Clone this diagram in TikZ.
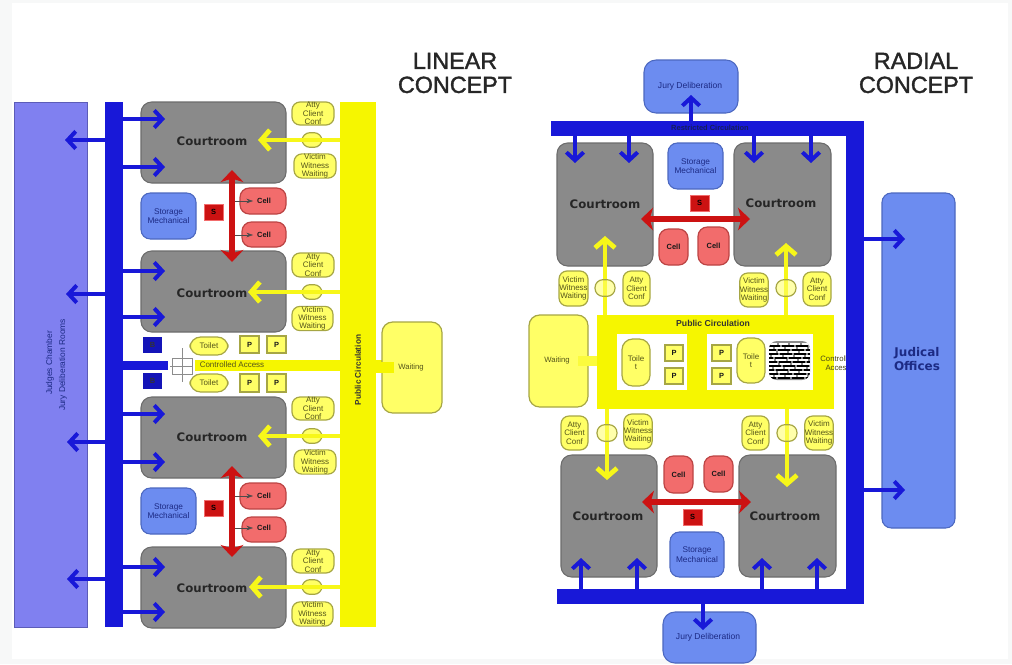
\documentclass[tikz,border=0pt]{standalone}
\usepackage{fontspec}
\setmainfont{Liberation Sans}
\newfontfamily\widebold[Scale=1]{DejaVu Sans}
\newfontfamily\titlefont[FakeBold=1.6]{Liberation Sans}
\usetikzlibrary{arrows.meta,calc}
\definecolor{bandblue}{HTML}{1818D8}
\definecolor{judgepanel}{HTML}{8080F0}
\definecolor{judgeedge}{HTML}{5C5CB8}
\definecolor{crfill}{HTML}{8A8A8A}
\definecolor{credge}{HTML}{6C6C6C}
\definecolor{stfill}{HTML}{6C8CF0}
\definecolor{stedge}{HTML}{4C68C0}
\definecolor{pubyellow}{HTML}{F6F600}
\definecolor{softyellow}{HTML}{FFFF66}
\definecolor{softedge}{HTML}{A6A644}
\definecolor{cellfill}{HTML}{F26C6C}
\definecolor{celledge}{HTML}{BC4444}
\definecolor{redbar}{HTML}{CC1212}
\definecolor{navytext}{HTML}{1C2A84}
\definecolor{olivetext}{HTML}{55551A}
\definecolor{fringe}{HTML}{F7F8F8}
\newcommand{\bx}[7][]{\node[#6,minimum width={(#4-#2)*0.75pt},minimum height={(#5-#3)*0.75pt},#1] at ({(#2+#4)/2},{(#3+#5)/2}) #7;}
\tikzset{
  flat/.style={draw=none,inner sep=0pt,outer sep=0pt},
  band/.style={flat,fill=bandblue},
  pubbar/.style={flat,fill=pubyellow},
  judge/.style={flat,fill=judgepanel,draw=judgeedge,line width=.5pt},
  court/.style={flat,fill=crfill,draw=credge,line width=.8pt,rounded corners=8pt,font=\widebold\bfseries\fontsize{8.8}{10}\selectfont,text=black!85},
  store/.style={flat,fill=stfill,draw=stedge,line width=.8pt,rounded corners=7pt,font=\fontsize{6.2}{7}\selectfont,text=navytext,align=center},
  jury/.style={store,rounded corners=9pt,font=\fontsize{6.4}{7}\selectfont},
  soft/.style={flat,fill=softyellow,draw=softedge,line width=.9pt,rounded corners=6pt,font=\fontsize{6}{6.3}\selectfont,text=olivetext,align=center},
  pill/.style={soft,rounded corners=8pt},
  pbox/.style={soft,rounded corners=0pt,font=\bfseries\fontsize{5.6}{6.2}\selectfont,text=black!90},
  cellbox/.style={flat,fill=cellfill,draw=celledge,line width=.9pt,rounded corners=7pt,font=\bfseries\fontsize{5.6}{6.2}\selectfont,text=black!90},
  redsq/.style={flat,fill=redbar,draw=cellfill,line width=.5pt,font=\bfseries\fontsize{5.6}{6}\selectfont,text=black},
  navysq/.style={flat,fill=bandblue!85!black,font=\bfseries\fontsize{5.6}{6}\selectfont,text=black!80},
  oval/.style={soft,rounded corners=6pt},
  ttl/.style={font=\titlefont\fontsize{17.5}{18}\selectfont,align=center,text=black!85,inner sep=0pt},
  lbl/.style={inner sep=0pt,font=\fontsize{5.8}{6.6}\selectfont,text=olivetext,align=center},
  barrow/.style={draw=bandblue,line width=3.3pt,-{Straight Barb[length=6pt,width=13pt,line width=3pt]}},
  yarrow/.style={draw=pubyellow!90!white,line width=3.6pt,-{Straight Barb[length=6.5pt,width=15pt,line width=3.6pt]}},
  rarrow/.style={draw=redbar,line width=5.2pt,{Stealth[length=9pt,width=17pt,inset=2.5pt]}-{Stealth[length=9pt,width=17pt,inset=2.5pt]}},
  thinarrow/.style={draw=black!70,line width=.35pt,-{Stealth[length=5pt,width=3.5pt]}},
  crossline/.style={draw=black!45,line width=.6pt}
}
\begin{document}
\begin{tikzpicture}[x=0.75pt,y=-0.75pt]
\useasboundingbox (0,0) rectangle (1012,664);
\fill[white] (0,0) rectangle (1012,664);
\fill[fringe] (0,0) rectangle (12,664);
\fill[fringe] (0,0) rectangle (1012,3);
\fill[fringe] (0,659) rectangle (1012,664);
\fill[fringe] (1008,0) rectangle (1012,664);

% ------ LINEAR CONCEPT
\node[ttl] (lt) at (455,73) {LINEAR\\CONCEPT};

\bx{14}{102}{87}{627}{judge}{(judges) {}}
\node[rotate=90,inner sep=0pt,font=\fontsize{6.3}{7}\selectfont,text=navytext] (jc) at (50,363) {Judges Chamber};
\node[rotate=90,inner sep=0pt,font=\fontsize{6.3}{7}\selectfont,text=navytext] (jd) at (63,365) {Jury Deliberation Rooms};

\bx{105}{102}{123}{627}{band}{(lbar) {}}
\bx{123}{361}{168}{370}{band}{(lstub) {}}
\bx{195}{360}{382}{371}{pubbar}{(lacc) {}}
\bx{340}{102}{376}{627}{pubbar}{(lpub) {}}
\node[rotate=90,inner sep=0pt,font=\bfseries\fontsize{6.2}{7}\selectfont,text=black!80] (lpubt) at (358,370) {Public Circulation};
\bx{382}{322}{442}{413}{pill}{(lwait) {}}
\draw[draw=pubyellow,line width=8pt] (lpub.east |- lwait) -- +(18,0) coordinate (lwe);
\node[lbl] (lwaitt) at (411,367) {Waiting};
\node[lbl,font=\fontsize{6}{7}\selectfont] (lacct) at (232,365) {Controlled Access};

% courtrooms (linear)
\foreach \n/\t/\b/\cy/\tip in {1/102/183/140/258,2/251/332/292/248,3/397/478/436/258,4/547/628/587/249}{
  \bx{141}{\t}{286}{\b}{court}{(lc\n) {}}
  \node[inner sep=0pt,font=\widebold\bfseries\fontsize{8.8}{10}\selectfont,text=black!85] (lct\n) at (212,{\cy+1}) {Courtroom};
  \node[soft,oval,minimum width=15pt,minimum height=11pt] (lo\n) at (312,\cy) {};
  \coordinate (lyt\n) at (\tip,\cy);
  \draw[yarrow] (lpub.west |- lyt\n) -- (lyt\n);
}
\foreach \n/\y in {1/119,2/167,3/271,4/317,5/414,6/462,7/567,8/612}{
  \coordinate (lba\n) at (165,\y);
  \draw[barrow] (lbar.east |- lba\n) -- (lba\n);
}
\foreach \n/\x/\y in {1/65/140,2/66/294,3/67/442,4/67/579}{
  \coordinate (lbl\n) at (\x,\y);
  \draw[barrow] (lbar.west |- lbl\n) -- (lbl\n);
}
% conf rooms
\bx{292}{102}{334}{125}{soft}{(la1) {Atty\\Client\\Conf}}
\bx{292}{253}{334}{277}{soft}{(la2) {Atty\\Client\\Conf}}
\bx{292}{397}{334}{420}{soft}{(la3) {Atty\\Client\\Conf}}
\bx{292}{549}{334}{573}{soft}{(la4) {Atty\\Client\\Conf}}
\bx{294}{154}{336}{178}{soft}{(lv1) {Victim\\Witness\\Waiting}}
\bx{292}{307}{333}{330}{soft}{(lv2) {Victim\\Witness\\Waiting}}
\bx{294}{450}{336}{474}{soft}{(lv3) {Victim\\Witness\\Waiting}}
\bx{292}{602}{333}{626}{soft}{(lv4) {Victim\\Witness\\Waiting}}
% middle strip
\bx{143}{337}{162}{353}{navysq}{(ln1) {B}}
\bx{143}{373}{162}{389}{navysq}{(ln2) {B}}
\bx{190}{337}{228}{355}{pill}{(lt1) {Toilet}}
\bx{190}{374}{228}{392}{pill}{(lt2) {Toilet}}
\bx{240}{336}{259}{353}{pbox}{(lp1) {P}}
\bx{267}{336}{286}{353}{pbox}{(lp2) {P}}
\bx{240}{374}{259}{392}{pbox}{(lp3) {P}}
\bx{267}{374}{286}{392}{pbox}{(lp4) {P}}
% controlled access cross
\draw[crossline] (172,358) rectangle (192,374);
\draw[crossline] (182,348) -- (182,382);
\draw[crossline] (170,366) -- (193,366);
% holding groups
\bx{141}{193}{196}{239}{store}{(ls1) {Storage\\Mechanical}}
\bx{141}{488}{196}{534}{store}{(ls2) {Storage\\Mechanical}}
\bx{204}{204}{223}{220}{redsq}{(lr1) {S}}
\bx{204}{500}{223}{516}{redsq}{(lr2) {S}}
\bx{240}{188}{286}{214}{cellbox}{(lcell1) {}}
\bx{242}{222}{286}{247}{cellbox}{(lcell2) {}}
\bx{240}{483}{286}{509}{cellbox}{(lcell3) {}}
\bx{242}{517}{286}{542}{cellbox}{(lcell4) {}}
\foreach \n/\y in {1/201,2/235,3/496,4/528}{
  \node[inner sep=0pt,font=\bfseries\fontsize{5.6}{6.2}\selectfont,text=black!90] (lcellt\n) at (264,\y) {Cell};
  \coordinate (lth\n) at (231,\y);
  \coordinate (ltt\n) at (253,\y);
  \draw[thinarrow] (lth\n) -- (ltt\n);
}
\coordinate (lra) at (232,170); \coordinate (lrb) at (232,262);
\coordinate (lrc) at (232,466); \coordinate (lrd) at (232,557);
\draw[rarrow] (lra) -- (lrb);
\draw[rarrow] (lrc) -- (lrd);

% ------ RADIAL CONCEPT
\node[ttl] (rt) at (916,73) {RADIAL\\CONCEPT};
\bx{644}{60}{738}{113}{jury}{(rj1) {}}
\bx{663}{612}{756}{663}{jury}{(rj2) {}}
\node[inner sep=0pt,font=\fontsize{6.4}{7}\selectfont,text=navytext] (rj1t) at (690,86) {Jury Deliberation};
\node[inner sep=0pt,font=\fontsize{6.4}{7}\selectfont,text=navytext] (rj2t) at (708,637) {Jury Deliberation};
\bx{882}{193}{955}{528}{store}{(roff) {}}
\node[inner sep=0pt,align=center,font=\widebold\bfseries\fontsize{9}{10.4}\selectfont,text=navytext] (rofft) at (917,359) {Judical\\Offices};

% public block
\coordinate (ryu1) at (605,236); \coordinate (ryu2) at (786,243);
\coordinate (ryd1) at (607,480); \coordinate (ryd2) at (787,487);
\bx{529}{315}{588}{407}{pill}{(rwait) {}}

% courtrooms (radial)
\bx{557}{143}{653}{266}{court}{(rc1) {}}
\bx{734}{143}{831}{266}{court}{(rc2) {}}
\bx{561}{455}{657}{577}{court}{(rc3) {}}
\bx{739}{455}{836}{577}{court}{(rc4) {}}
\foreach \n/\x/\y in {1/605/204,2/781/203,3/608/516,4/785/516}{
  \node[inner sep=0pt,font=\widebold\bfseries\fontsize{8.8}{10}\selectfont,text=black!85] (rct\n) at (\x,\y) {Courtroom};
}
\bx{597}{315}{834}{409}{pubbar}{(rpub) {}}
\draw[draw=softyellow!60!pubyellow,line width=7pt] (rwait.east) ++(-10,0) -- (rpub.west |- rwait.east);
\node[lbl] (rwt) at (557,360) {Waiting};
\node[inner sep=0pt,font=\bfseries\fontsize{6.5}{7}\selectfont,text=black!80] (rpubt) at (713,323) {Public Circulation};
\bx{617}{334}{687}{390}{flat,fill=white}{(rw1) {}}
\bx{707}{334}{813}{390}{flat,fill=white}{(rw2) {}}
\bx{622}{339}{650}{386}{pill}{(rtoi1) {Toile\\t}}
\bx{737}{338}{765}{383}{pill}{(rtoi2) {Toile\\t}}
\bx{665}{345}{683}{361}{pbox}{(rp1) {P}}
\bx{665}{368}{683}{384}{pbox}{(rp2) {P}}
\bx{712}{345}{731}{361}{pbox}{(rp3) {P}}
\bx{712}{368}{731}{384}{pbox}{(rp4) {P}}
\bx{769}{341}{810}{380}{flat,fill=black!45,rounded corners=6pt}{(rstair) {}}
\begin{scope}
\clip[rounded corners=6pt] (769,341) rectangle (810,380);
\foreach \y/\p in {344/1,348/4,352/2,356/6,360/3,364/0,368/5,372/2,376/4}{
  \draw[white,line width=1.1pt,dash pattern=on 7pt off 1.5pt,dash phase=\p pt] (769,\y) -- (810,\y);
  \draw[black,line width=.9pt,dash pattern=on 9pt off 1.5pt,dash phase=\p pt] (769,\y+2) -- (810,\y+2);
}
\end{scope}
\node[lbl,text=olivetext!85!black] (rcat) at (838,363) {Controlled\\Access};

% yellow routes
\draw[yarrow] (rpub.north -| ryu1) -- (ryu1);
\draw[yarrow] (rpub.north -| ryu2) -- (ryu2);
\draw[yarrow] (rpub.south -| ryd1) -- (ryd1);
\draw[yarrow] (rpub.south -| ryd2) -- (ryd2);
\foreach \n/\x/\y in {1/605/288,2/786/288,3/607/433,4/787/433}{
  \node[soft,oval,minimum width=15pt,minimum height=12.5pt,fill opacity=.55,text opacity=1] (ro\n) at (\x,\y) {};
}
\bx{559}{271}{588}{306}{soft}{(rv1) {Victim\\Witness\\Waiting}}
\bx{623}{271}{650}{306}{soft}{(ra1) {Atty\\Client\\Conf}}
\bx{740}{273}{768}{307}{soft}{(rv2) {Victim\\Witness\\Waiting}}
\bx{803}{272}{831}{306}{soft}{(ra2) {Atty\\Client\\Conf}}
\bx{561}{416}{588}{450}{soft}{(ra3) {Atty\\Client\\Conf}}
\bx{624}{414}{652}{449}{soft}{(rv3) {Victim\\Witness\\Waiting}}
\bx{742}{416}{769}{450}{soft}{(ra4) {Atty\\Client\\Conf}}
\bx{805}{416}{833}{450}{soft}{(rv4) {Victim\\Witness\\Waiting}}

% centre group
\bx{668}{143}{723}{189}{store}{(rs1) {Storage\\Mechanical}}
\bx{670}{532}{724}{577}{store}{(rs2) {Storage\\Mechanical}}
\bx{690}{195}{709}{211}{redsq}{(rr1) {S}}
\bx{683}{509}{702}{525}{redsq}{(rr2) {S}}
\bx{659}{229}{688}{265}{cellbox}{(rcell1) {Cell}}
\bx{698}{227}{729}{265}{cellbox}{(rcell2) {Cell}}
\bx{664}{456}{693}{493}{cellbox}{(rcell3) {Cell}}
\bx{704}{456}{733}{492}{cellbox}{(rcell4) {Cell}}
\coordinate (rra) at (641,219); \coordinate (rrb) at (750,219);
\coordinate (rrc) at (642,502); \coordinate (rrd) at (751,502);
\draw[rarrow] (rra) -- (rrb);
\draw[rarrow] (rrc) -- (rrd);

% restricted band
\bx{551}{121}{864}{136}{band}{(rtop) {}}
\bx{846}{121}{864}{604}{band}{(rrt) {}}
\bx{557}{589}{864}{604}{band}{(rbot) {}}
\node[inner sep=0pt,font=\bfseries\fontsize{5.6}{6.2}\selectfont,text=navytext!70!black] (rbt) at (710,128) {Restricted Circulation};
\foreach \n/\x in {1/575,2/629,3/754,4/811}{
  \coordinate (rdn\n) at (\x,163);
  \draw[barrow] (rtop.south -| rdn\n) -- (rdn\n);
}
\foreach \n/\x in {1/581,2/637,3/762,4/817}{
  \coordinate (rup\n) at (\x,558);
  \draw[barrow] (rbot.north -| rup\n) -- (rup\n);
}
\coordinate (rju) at (691,95); \coordinate (rjd) at (703,630);
\draw[barrow] (rtop.north -| rju) -- (rju);
\draw[barrow] (rbot.south -| rjd) -- (rjd);
\coordinate (rof1) at (905,239); \coordinate (rof2) at (905,490);
\draw[barrow] (rrt.east |- rof1) -- (rof1);
\draw[barrow] (rrt.east |- rof2) -- (rof2);
\end{tikzpicture}
\end{document}
